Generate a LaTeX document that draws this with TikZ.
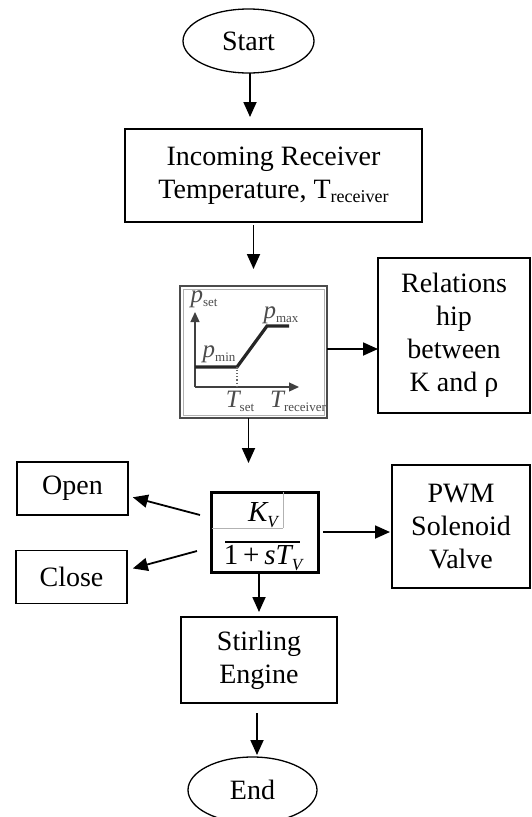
\documentclass[tikz,border=0pt]{standalone}
\usepackage{fontspec}
\setmainfont{Liberation Serif}
\usetikzlibrary{shapes.geometric,arrows.meta,calc}
\newcommand{\clab}[2]{{\itshape #1}\raisebox{-0.35ex}{\fontsize{13}{13}\selectfont\upshape #2}}
\begin{document}
\begin{tikzpicture}[x=1pt,y=-1pt,
  every node/.style={inner sep=0pt, outer sep=0pt},
  box/.style={draw, line width=1.3pt, rectangle, align=center, font=\fontsize{28}{33}\selectfont},
  term/.style={draw, line width=1.3pt, ellipse, font=\fontsize{28}{33}\selectfont},
  arr/.style={line width=1.8pt, -{Triangle[length=15pt,width=13pt]}},
  chartlab/.style={font=\fontsize{25}{25}\selectfont, text=black!70},
  axis/.style={line width=1.3pt, draw=black!75, -{Triangle[length=10pt,width=9pt]}},
  thin/.style={line width=0.6pt, draw=black!30},
]
\useasboundingbox (0,0) rectangle (531,817);

% main nodes
\node[term, minimum width=131, minimum height=64] (start) at (248.5,41) {Start};
\node[box, minimum width=297, minimum height=93] (incoming) at (273.5,175.5)
  {Incoming Receiver\\Temperature, T\raisebox{-0.3ex}{\fontsize{18}{18}\selectfont receiver}};
\node[draw=black!70, line width=2pt, rectangle, minimum width=147, minimum height=132] (chart) at (253.5,352) {};
\node[box, minimum width=152, minimum height=155] (rel) at (454,335.5) {Relations\\hip\\between\\K and ρ};
\node[draw, line width=3pt, rectangle, minimum width=107, minimum height=80] (tf) at (264.5,532) {};
\node[box, minimum width=138, minimum height=123] (pwm) at (461,526.5) {PWM\\Solenoid\\Valve};
\node[box, minimum width=111, minimum height=53] (open) at (72.5,488.5) {Open};
\node[box, minimum width=111, minimum height=53] (close) at (71.5,577) {Close};
\node[box, minimum width=156, minimum height=86] (stirling) at (259,660) {Stirling\\Engine};
\node[term, minimum width=129, minimum height=66] (end) at (252.5,790) {End};

% chart contents
\draw[thin] ([shift={(3,3)}]chart.north west) rectangle ([shift={(-3,-3)}]chart.south east);
\coordinate (o) at (195,387);
\draw[axis] (o) -- (195,312);
\draw[axis] (o) -- (299,387);
\draw[line width=3.2pt, black!85] (195,367) -- (237,367) -- (267,326) -- (289,326);
\draw[dotted, line width=1.1pt, black!60] (237,367) -- (237,386);
\node[chartlab] (pset) at (204,299) {\clab{p}{set}};
\node[chartlab] (pmin) at (219,354) {\clab{p}{min}};
\node[chartlab] (pmax) at (281,315) {\clab{p}{max}};
\node[chartlab] (tset) at (240,401) {\clab{T}{set}};
\node[chartlab] (trec) at (298,401) {\clab{T}{receiver}};

% transfer function contents
\draw[thin] (283,492) -- (283,528);
\draw[thin] (212,528) -- (283,528);
\draw[line width=1.4pt] (225,542) -- (300,542);
\node[font=\fontsize{29}{29}\selectfont] (num) at (263,515) {{\itshape K}\raisebox{-0.4ex}{\fontsize{17}{17}\selectfont\itshape V}};
\node[font=\fontsize{29}{29}\selectfont] (den) at (263,558) {1\,+\,{\itshape sT}\raisebox{-0.4ex}{\fontsize{17}{17}\selectfont\itshape V}};

% connectors
\draw[arr, shorten >=12pt] ([xshift=1.5pt]start.south) -- ([xshift=1.5pt]start.south |- incoming.north);
\draw[arr, shorten <=3pt, shorten >=17pt] (chart.north |- incoming.south) -- (chart.north);
\draw[arr] ([yshift=3pt]chart.east) -- ([yshift=3pt]chart.east -| rel.west);
\draw[arr, shorten >=29pt] ([xshift=-5pt]chart.south) -- ([xshift=-5pt]chart.south |- tf.north);
\draw[arr, shorten <=5pt, shorten >=2pt] (tf.east) -- (tf.east -| pwm.west);
\draw[arr, shorten >=5pt] ([shift={(-11,-17)}]tf.west) -- ([yshift=-7.5pt]open.east);
\draw[arr, shorten >=6pt] ([shift={(-14,19)}]tf.west) -- ([yshift=7pt]close.east);
\draw[arr, shorten >=5pt] (stirling.north |- tf.south) -- (stirling.north);
\draw[arr, shorten <=10pt, shorten >=2pt] ([xshift=-2pt]stirling.south) -- ([xshift=-2pt]stirling.south |- end.north);
\end{tikzpicture}
\end{document}
